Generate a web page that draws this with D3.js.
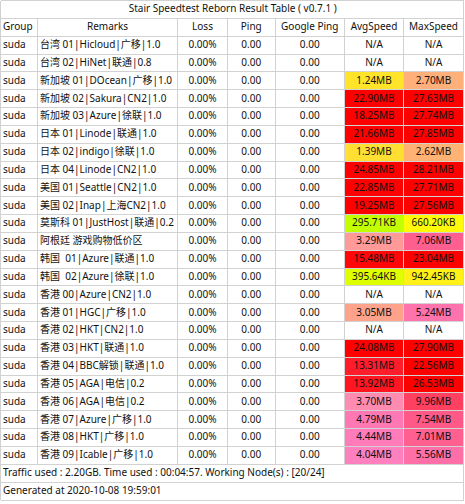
<!DOCTYPE html>
<html>
<head>
<meta charset="utf-8">
<script src="https://cdn.jsdelivr.net/npm/d3@7"></script>
<style>
  body { margin: 0; background: #fff; }
  text { font-family: "Noto Sans", "Noto Sans CJK SC", sans-serif; font-size: 10px; fill: #111; }
</style>
</head>
<body>
<svg id="chart"></svg>
<script>
const title = "Stair Speedtest Reborn Result Table ( v0.7.1 )";
const headers = ["Group", "Remarks", "Loss", "Ping", "Google Ping", "AvgSpeed", "MaxSpeed"];

const remarks = [
  "台湾 01|Hicloud|广移|1.0",
  "台湾 02|HiNet|联通|0.8",
  "新加坡 01|DOcean|广移|1.0",
  "新加坡 02|Sakura|CN2|1.0",
  "新加坡 03|Azure|徐联|1.0",
  "日本 01|Linode|联通|1.0",
  "日本 02|indigo|徐联|1.0",
  "日本 04|Linode|CN2|1.0",
  "美国 01|Seattle|CN2|1.0",
  "美国 02|Inap|上海CN2|1.0",
  "莫斯科 01|JustHost|联通|0.2",
  "阿根廷 游戏购物低价区",
  "韩国  01|Azure|联通|1.0",
  "韩国  02|Azure|徐联|1.0",
  "香港 00|Azure|CN2|1.0",
  "香港 01|HGC|广移|1.0",
  "香港 02|HKT|CN2|1.0",
  "香港 03|HKT|联通|1.0",
  "香港 04|BBC解锁|联通|1.0",
  "香港 05|AGA|电信|0.2",
  "香港 06|AGA|电信|0.2",
  "香港 07|Azure|广移|1.0",
  "香港 08|HKT|广移|1.0",
  "香港 09|Icable|广移|1.0"
];

const groupName = "suda";
const loss = "0.00%";
const ping = "0.00";
const googlePing = "0.00";

const avgSpeed = [
  "N/A", "N/A", "1.24MB", "22.90MB", "18.25MB", "21.66MB", "1.39MB", "24.85MB",
  "22.85MB", "19.25MB", "295.71KB", "3.29MB", "15.48MB", "395.64KB", "N/A", "3.05MB",
  "N/A", "24.08MB", "13.31MB", "13.92MB", "3.70MB", "4.79MB", "4.44MB", "4.04MB"
];
const maxSpeed = [
  "N/A", "N/A", "2.70MB", "27.63MB", "27.74MB", "27.85MB", "2.62MB", "28.21MB",
  "27.71MB", "27.56MB", "660.20KB", "7.06MB", "23.04MB", "942.45KB", "N/A", "5.24MB",
  "N/A", "27.90MB", "22.56MB", "26.53MB", "9.96MB", "7.54MB", "7.01MB", "5.56MB"
];

// speed steps (KB) and their colours
const speedSteps = [0, 64, 512, 4096, 16384];
const stepColors = ["#ffffff", "rgb(128,255,0)", "rgb(255,255,0)", "rgb(255,128,192)", "rgb(255,0,0)"];

const footer1 = "Traffic used : 2.20GB. Time used : 00:04:57. Working Node(s) : [20/24]";
const footer2 = "Generated at 2020-10-08 19:59:01";

const W = 465, H = 504;
const tableW = 463.5, tableH = 500;
const colX = [0.5, 37.5, 177.5, 227.5, 275, 344.5, 403.5, 463.5];
const nRows = remarks.length + 4;

const svg = d3.select("#chart").attr("width", W).attr("height", H);

const y = d3.scaleLinear().domain([0, nRows]).range([0.5, tableH]);

const color = d3.scaleLinear().domain(speedSteps).range(stepColors).clamp(true);

function toKB(s) {
  if (s === "N/A") return null;
  const v = parseFloat(s);
  if (s.endsWith("GB")) return v * 1024 * 1024;
  if (s.endsWith("MB")) return v * 1024;
  if (s.endsWith("KB")) return v;
  return v / 1024;
}

const rows = remarks.map((r, i) => [groupName, r, loss, ping, googlePing, avgSpeed[i], maxSpeed[i]]);

// coloured speed cells
rows.forEach((row, i) => {
  [5, 6].forEach(c => {
    const kb = toKB(row[c]);
    if (kb === null) return;
    svg.append("rect")
      .attr("x", colX[c])
      .attr("y", y(i + 2))
      .attr("width", colX[c + 1] - colX[c])
      .attr("height", y(i + 3) - y(i + 2))
      .attr("fill", color(kb));
  });
});

const grid = svg.append("g")
  .attr("stroke", "#d2d2d2")
  .attr("stroke-width", 1)
  .attr("shape-rendering", "crispEdges");

// horizontal lines
d3.range(nRows + 1).forEach(i => {
  grid.append("line")
    .attr("x1", colX[0]).attr("x2", tableW)
    .attr("y1", y(i)).attr("y2", y(i));
});
// outer sides
grid.append("line").attr("x1", colX[0]).attr("x2", colX[0]).attr("y1", y(0)).attr("y2", y(nRows));
grid.append("line").attr("x1", tableW).attr("x2", tableW).attr("y1", y(0)).attr("y2", y(nRows));
// inner columns, header + data rows only
colX.slice(1, -1).forEach(x => {
  grid.append("line").attr("x1", x).attr("x2", x).attr("y1", y(1)).attr("y2", y(nRows - 2));
});

const baseOff = 2.9;
const rowMid = i => (y(i) + y(i + 1)) / 2 + baseOff;

svg.append("text")
  .attr("x", tableW / 2 + 1)
  .attr("y", rowMid(0))
  .attr("text-anchor", "middle")
  .text(title);

svg.selectAll(".hdr")
  .data(headers)
  .enter()
  .append("text")
  .attr("class", "hdr")
  .attr("x", (d, c) => c === 0 ? 3 : (colX[c] + colX[c + 1]) / 2)
  .attr("y", rowMid(1))
  .attr("text-anchor", (d, c) => c === 0 ? "start" : "middle")
  .text(d => d);

rows.forEach((row, i) => {
  svg.append("g").selectAll("text")
    .data(row)
    .enter()
    .append("text")
    .attr("x", (d, c) => c === 0 ? 3 : c === 1 ? colX[1] + 2.5 : (colX[c] + colX[c + 1]) / 2)
    .attr("y", rowMid(i + 2))
    .attr("text-anchor", (d, c) => c < 2 ? "start" : "middle")
    .style("white-space", "pre")
    .text(d => d);
});

svg.append("text").attr("x", 3).attr("y", rowMid(nRows - 2)).text(footer1);
svg.append("text").attr("x", 3).attr("y", rowMid(nRows - 1)).text(footer2);
</script>
</body>
</html>
